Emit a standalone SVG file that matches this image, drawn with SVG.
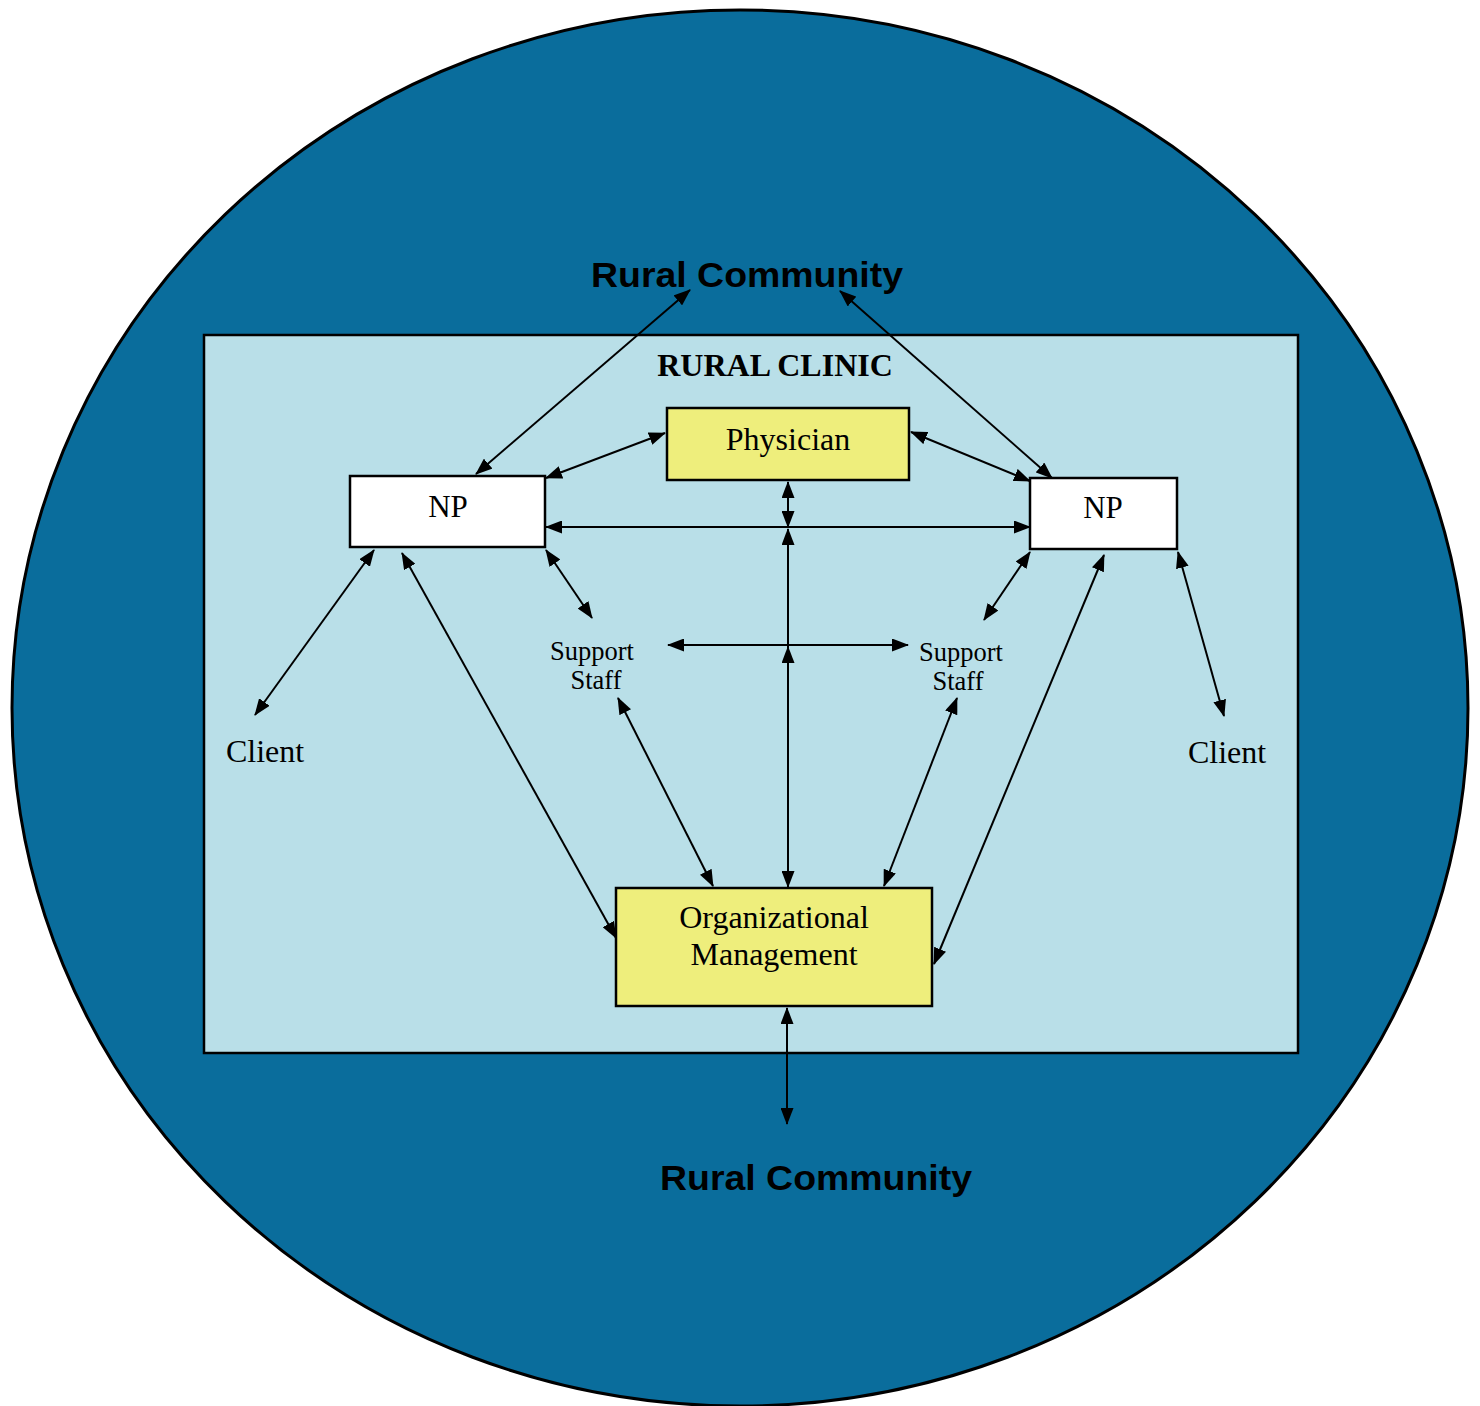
<svg xmlns="http://www.w3.org/2000/svg" width="1480" height="1406" viewBox="0 0 1480 1406">
<defs>
<marker id="ah" markerUnits="userSpaceOnUse" markerWidth="17" markerHeight="13" refX="16" refY="6.5" orient="auto-start-reverse">
<path d="M0,0 L17,6.5 L0,13 z" fill="#000"/>
</marker>
<style>
.c{stroke:#000;stroke-width:2;fill:none;marker-start:url(#ah);marker-end:url(#ah)}
.s{stroke:#000;stroke-width:2;fill:none}
.tm{font-family:"Liberation Serif","Times New Roman",serif;fill:#000}
.ar{font-family:"Liberation Sans",Arial,sans-serif;font-weight:bold;fill:#000}
.box{stroke:#000;stroke-width:2.5}
</style>
</defs>
<rect width="1480" height="1406" fill="#fff"/>
<g id="community">
<ellipse cx="740" cy="708" rx="728" ry="698" fill="#0a6d9c" stroke="#000" stroke-width="3"/>
<text class="ar" x="591" y="287" font-size="35" textLength="312" lengthAdjust="spacingAndGlyphs">Rural Community</text>
<text class="ar" x="660" y="1190" font-size="35" textLength="312" lengthAdjust="spacingAndGlyphs">Rural Community</text>
</g>
<g id="clinic">
<rect x="204" y="335" width="1094" height="718" fill="#b9dfe8" stroke="#000" stroke-width="2.5"/>
<text class="tm" x="775" y="376" font-size="32" font-weight="bold" text-anchor="middle">RURAL CLINIC</text>
</g>
<g id="connectors">
<line class="c" x1="476" y1="474" x2="690" y2="290"/>
<line class="c" x1="1052" y1="478" x2="840" y2="291"/>
<line class="c" x1="546" y1="478" x2="665" y2="433"/>
<line class="c" x1="1030" y1="481" x2="911" y2="432"/>
<line class="c" x1="546" y1="527" x2="1030" y2="527"/>
<line class="c" x1="788" y1="482" x2="788" y2="527"/>
<line class="c" x1="788" y1="529" x2="788" y2="887"/>
<line class="c" x1="668" y1="645" x2="908" y2="645"/>
<line class="s" x1="788" y1="647" x2="788" y2="680" style="marker-start:url(#ah)"/>
<line class="c" x1="546" y1="550" x2="592" y2="618"/>
<line class="c" x1="1030" y1="552" x2="984" y2="620"/>
<line class="c" x1="374" y1="550" x2="255" y2="715"/>
<line class="c" x1="402" y1="553" x2="616" y2="938"/>
<line class="c" x1="618" y1="698" x2="713" y2="886"/>
<line class="c" x1="957" y1="698" x2="884" y2="886"/>
<line class="c" x1="1104" y1="555" x2="934" y2="964"/>
<line class="c" x1="1178" y1="552" x2="1224" y2="716"/>
<line class="c" x1="787" y1="1008" x2="787" y2="1124"/>
</g>
<g id="physician">
<rect class="box" x="667" y="408" width="242" height="72" fill="#eeee7c"/>
<text class="tm" x="788" y="450" font-size="32" text-anchor="middle">Physician</text>
</g>
<g id="np-left">
<rect class="box" x="350" y="476" width="195" height="71" fill="#fff"/>
<text class="tm" x="448" y="517" font-size="31" text-anchor="middle">NP</text>
</g>
<g id="np-right">
<rect class="box" x="1030" y="478" width="147" height="71" fill="#fff"/>
<text class="tm" x="1103" y="518" font-size="31" text-anchor="middle">NP</text>
</g>
<g id="org">
<rect class="box" x="616" y="888" width="316" height="118" fill="#eeee7c"/>
<text class="tm" x="774" y="928" font-size="32" text-anchor="middle">Organizational</text>
<text class="tm" x="774" y="965" font-size="32" text-anchor="middle">Management</text>
</g>
<g id="support-left">
<text class="tm" x="592" y="660" font-size="26.5" text-anchor="middle">Support</text>
<text class="tm" x="596" y="689" font-size="26.5" text-anchor="middle">Staff</text>
</g>
<g id="support-right">
<text class="tm" x="961" y="661" font-size="26.5" text-anchor="middle">Support</text>
<text class="tm" x="958" y="690" font-size="26.5" text-anchor="middle">Staff</text>
</g>
<g id="client-left">
<text class="tm" x="265" y="762" font-size="32" text-anchor="middle">Client</text>
</g>
<g id="client-right">
<text class="tm" x="1227" y="763" font-size="32" text-anchor="middle">Client</text>
</g>
</svg>
